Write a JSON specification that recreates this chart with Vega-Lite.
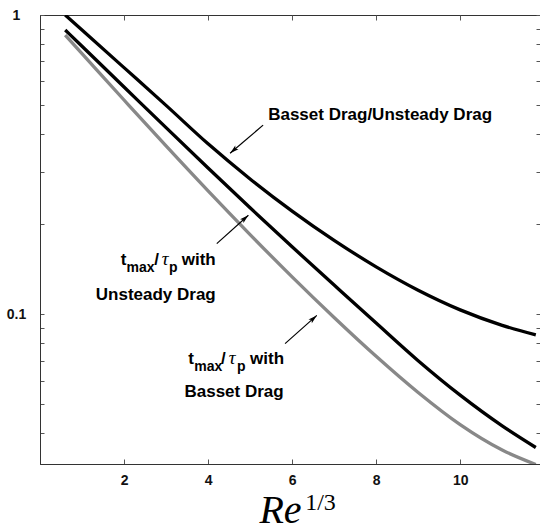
{
  "$schema": "https://vega.github.io/schema/vega-lite/v6.json",
  "width": 500,
  "height": 449,
  "autosize": "none",
  "padding": {"left": 40, "top": 15, "right": 0, "bottom": 66},
  "background": "white",
  "config": {
    "view": {"stroke": "#333", "strokeWidth": 1},
    "axis": {"grid": false}
  },
  "datasets": {
    "curves": [
      {"series": "Basset/Unsteady", "x": 0.6, "y": 1.0},
      {"series": "Basset/Unsteady", "x": 1, "y": 0.891},
      {"series": "Basset/Unsteady", "x": 2, "y": 0.667},
      {"series": "Basset/Unsteady", "x": 3, "y": 0.499},
      {"series": "Basset/Unsteady", "x": 4, "y": 0.3712},
      {"series": "Basset/Unsteady", "x": 5, "y": 0.2834},
      {"series": "Basset/Unsteady", "x": 6, "y": 0.2213},
      {"series": "Basset/Unsteady", "x": 7, "y": 0.1767},
      {"series": "Basset/Unsteady", "x": 8, "y": 0.1441},
      {"series": "Basset/Unsteady", "x": 9, "y": 0.1204},
      {"series": "Basset/Unsteady", "x": 10, "y": 0.1035},
      {"series": "Basset/Unsteady", "x": 11, "y": 0.0919},
      {"series": "Basset/Unsteady", "x": 11.8, "y": 0.0854},
      {"series": "Unsteady", "x": 0.6, "y": 0.8913},
      {"series": "Unsteady", "x": 1, "y": 0.7863},
      {"series": "Unsteady", "x": 2, "y": 0.5749},
      {"series": "Unsteady", "x": 3, "y": 0.4203},
      {"series": "Unsteady", "x": 4, "y": 0.3081},
      {"series": "Unsteady", "x": 5, "y": 0.2270},
      {"series": "Unsteady", "x": 6, "y": 0.1681},
      {"series": "Unsteady", "x": 7, "y": 0.1253},
      {"series": "Unsteady", "x": 8, "y": 0.0935},
      {"series": "Unsteady", "x": 9, "y": 0.0700},
      {"series": "Unsteady", "x": 10, "y": 0.0537},
      {"series": "Unsteady", "x": 11, "y": 0.0424},
      {"series": "Unsteady", "x": 11.8, "y": 0.0359},
      {"series": "Basset", "x": 0.6, "y": 0.857},
      {"series": "Basset", "x": 1, "y": 0.743},
      {"series": "Basset", "x": 2, "y": 0.520},
      {"series": "Basset", "x": 3, "y": 0.3651},
      {"series": "Basset", "x": 4, "y": 0.2584},
      {"series": "Basset", "x": 5, "y": 0.1847},
      {"series": "Basset", "x": 6, "y": 0.1334},
      {"series": "Basset", "x": 7, "y": 0.0976},
      {"series": "Basset", "x": 8, "y": 0.0724},
      {"series": "Basset", "x": 9, "y": 0.0548},
      {"series": "Basset", "x": 10, "y": 0.0428},
      {"series": "Basset", "x": 11, "y": 0.0352},
      {"series": "Basset", "x": 11.8, "y": 0.0315}
    ],
    "arrows": [
      {"arrow": "A", "x": 5.31, "y": 0.4286, "x2": 4.524, "y2": 0.3454},
      {"arrow": "B", "x": 4.207, "y": 0.1723, "x2": 4.96, "y2": 0.2143},
      {"arrow": "C", "x": 5.833, "y": 0.0798, "x2": 6.588, "y2": 0.0992}
    ],
    "labels": [
      {"kind": "line", "text": "Basset Drag/Unsteady Drag", "x": 8.095, "y": 0.4455},
      {"kind": "piece", "text": "t", "x": 1.921, "y": 0.1459},
      {"kind": "sub", "text": "max", "x": 2.06, "y": 0.1382},
      {"kind": "piece", "text": "/", "x": 2.72, "y": 0.1459},
      {"kind": "greek", "text": "τ", "x": 2.898, "y": 0.1459},
      {"kind": "sub", "text": "p", "x": 3.07, "y": 0.1382},
      {"kind": "piece", "text": "with", "x": 3.374, "y": 0.1459},
      {"kind": "line", "text": "Unsteady Drag", "x": 2.755, "y": 0.1120},
      {"kind": "piece", "text": "t", "x": 3.531, "y": 0.0684},
      {"kind": "sub", "text": "max", "x": 3.67, "y": 0.0648},
      {"kind": "piece", "text": "/", "x": 4.31, "y": 0.0684},
      {"kind": "greek", "text": "τ", "x": 4.49, "y": 0.0684},
      {"kind": "sub", "text": "p", "x": 4.69, "y": 0.0648},
      {"kind": "piece", "text": "with", "x": 5.0, "y": 0.0684},
      {"kind": "line", "text": "Basset Drag", "x": 4.619, "y": 0.0529},
      {"kind": "expo", "text": "1/3", "x": 6.31, "y": 0.0222}
    ]
  },
  "resolve": {"axis": {"x": "independent", "y": "independent"}},
  "layer": [
    {
      "data": {"name": "curves"},
      "mark": {"type": "line", "strokeWidth": 3.3, "interpolate": "monotone", "clip": true},
      "encoding": {
        "x": {
          "field": "x", "type": "quantitative",
          "scale": {"domain": [0, 11.9], "nice": false, "zero": false},
          "axis": {
            "orient": "bottom", "values": [2, 4, 6, 8, 10],
            "tickSize": -5, "tickColor": "#555", "domainColor": "#333",
            "labelFont": "Liberation Sans", "labelFontWeight": "bold", "labelFontSize": 14,
            "labelColor": "#111", "labelPadding": 14, "labelFlush": false,
            "title": "Re", "titleFont": "Liberation Serif", "titleFontStyle": "italic",
            "titleFontWeight": "normal", "titleFontSize": 40, "titleColor": "#000",
            "titleX": 240, "titleY": 58, "titleAlign": "center", "titleBaseline": "alphabetic"
          }
        },
        "y": {
          "field": "y", "type": "quantitative",
          "scale": {"type": "log", "domain": [0.031623, 1], "nice": false},
          "axis": {
            "orient": "left",
            "values": [0.04, 0.05, 0.06, 0.07, 0.08, 0.09, 0.1, 0.2, 0.3, 0.4, 0.5, 0.6, 0.7, 0.8, 0.9, 1],
            "labelExpr": "datum.value == 1 ? '1' : (abs(datum.value - 0.1) < 1e-9 ? '0.1' : '')",
            "labelOverlap": false, "tickSize": -4, "tickColor": "#555", "domainColor": "#333",
            "labelFont": "Liberation Sans", "labelFontWeight": "bold", "labelFontSize": 14,
            "labelColor": "#111", "labelPadding": 28, "labelAlign": "center", "labelBaseline": "middle",
            "title": null
          }
        },
        "color": {
          "field": "series", "type": "nominal",
          "scale": {"domain": ["Basset/Unsteady", "Unsteady", "Basset"], "range": ["#000000", "#000000", "#888888"]},
          "legend": null
        }
      }
    },
    {
      "data": {"name": "curves"},
      "mark": {"type": "line", "strokeOpacity": 0},
      "encoding": {
        "x": {
          "field": "x", "type": "quantitative",
          "scale": {"domain": [0, 11.9], "nice": false, "zero": false},
          "axis": {"orient": "top", "values": [2, 4, 6, 8, 10], "labels": false, "domain": false,
                   "tickSize": -5, "tickColor": "#555", "title": null}
        },
        "y": {
          "field": "y", "type": "quantitative",
          "scale": {"type": "log", "domain": [0.031623, 1], "nice": false},
          "axis": {"orient": "right",
                   "values": [0.04, 0.05, 0.06, 0.07, 0.08, 0.09, 0.1, 0.2, 0.3, 0.4, 0.5, 0.6, 0.7, 0.8, 0.9, 1],
                   "labels": false, "domain": false, "tickSize": -4, "tickColor": "#555", "title": null}
        },
        "detail": {"field": "series"}
      }
    },
    {
      "data": {"name": "arrows"},
      "mark": {"type": "rule", "color": "#000", "strokeWidth": 1.2},
      "encoding": {
        "x": {"field": "x", "type": "quantitative", "axis": null},
        "y": {"field": "y", "type": "quantitative", "axis": null},
        "x2": {"field": "x2"},
        "y2": {"field": "y2"}
      }
    },
    {
      "data": {"name": "arrows"},
      "transform": [{"filter": "datum.arrow != 'A'"}],
      "mark": {"type": "point", "shape": "M0,0L0.45,1.6L0,1.25L-0.45,1.6Z", "filled": true,
               "color": "#000", "size": 125, "angle": 48, "opacity": 1, "strokeWidth": 0},
      "encoding": {
        "x": {"field": "x2", "type": "quantitative", "axis": null},
        "y": {"field": "y2", "type": "quantitative", "axis": null}
      }
    },
    {
      "data": {"name": "arrows"},
      "transform": [{"filter": "datum.arrow == 'A'"}],
      "mark": {"type": "point", "shape": "M0,0L0.45,1.6L0,1.25L-0.45,1.6Z", "filled": true,
               "color": "#000", "size": 125, "angle": 229.7, "opacity": 1, "strokeWidth": 0},
      "encoding": {
        "x": {"field": "x2", "type": "quantitative", "axis": null},
        "y": {"field": "y2", "type": "quantitative", "axis": null}
      }
    },
    {
      "data": {"name": "labels"},
      "transform": [{"filter": "datum.kind == 'line'"}],
      "mark": {"type": "text", "align": "center", "baseline": "alphabetic",
               "font": "Liberation Sans", "fontWeight": "bold", "fontSize": 17, "color": "#000"},
      "encoding": {
        "x": {"field": "x", "type": "quantitative", "axis": null},
        "y": {"field": "y", "type": "quantitative", "axis": null},
        "text": {"field": "text"}
      }
    },
    {
      "data": {"name": "labels"},
      "transform": [{"filter": "datum.kind == 'piece'"}],
      "mark": {"type": "text", "align": "left", "baseline": "alphabetic",
               "font": "Liberation Sans", "fontWeight": "bold", "fontSize": 17, "color": "#000"},
      "encoding": {
        "x": {"field": "x", "type": "quantitative", "axis": null},
        "y": {"field": "y", "type": "quantitative", "axis": null},
        "text": {"field": "text"}
      }
    },
    {
      "data": {"name": "labels"},
      "transform": [{"filter": "datum.kind == 'sub'"}],
      "mark": {"type": "text", "align": "left", "baseline": "alphabetic",
               "font": "Liberation Sans", "fontWeight": "bold", "fontSize": 14, "color": "#000"},
      "encoding": {
        "x": {"field": "x", "type": "quantitative", "axis": null},
        "y": {"field": "y", "type": "quantitative", "axis": null},
        "text": {"field": "text"}
      }
    },
    {
      "data": {"name": "labels"},
      "transform": [{"filter": "datum.kind == 'greek'"}],
      "mark": {"type": "text", "align": "left", "baseline": "alphabetic",
               "font": "Liberation Serif", "fontStyle": "italic", "fontWeight": "normal", "fontSize": 19, "color": "#000"},
      "encoding": {
        "x": {"field": "x", "type": "quantitative", "axis": null},
        "y": {"field": "y", "type": "quantitative", "axis": null},
        "text": {"field": "text"}
      }
    },
    {
      "data": {"name": "labels"},
      "transform": [{"filter": "datum.kind == 'expo'"}],
      "mark": {"type": "text", "align": "left", "baseline": "alphabetic",
               "font": "Liberation Serif", "fontWeight": "normal", "fontSize": 24, "color": "#000"},
      "encoding": {
        "x": {"field": "x", "type": "quantitative", "axis": null},
        "y": {"field": "y", "type": "quantitative", "axis": null},
        "text": {"field": "text"}
      }
    }
  ]
}
